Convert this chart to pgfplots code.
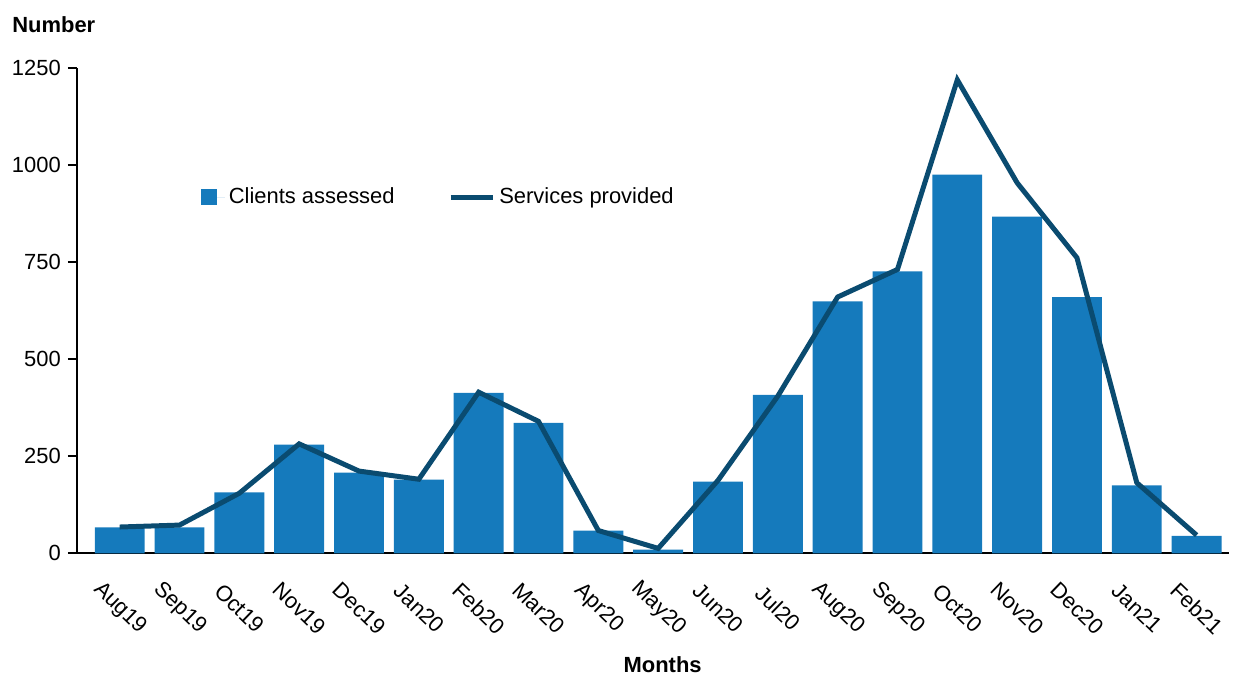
\documentclass[border=0pt]{standalone}
\usepackage{fontspec}
\setmainfont{Liberation Sans}
\usepackage{pgfplots}
\pgfplotsset{compat=1.18}
\definecolor{barblue}{RGB}{21,122,188}
\definecolor{lineblue}{RGB}{10,75,112}
\begin{document}
\begin{tikzpicture}
\begin{axis}[
  at={(0,0)}, anchor=south west,
  scale only axis, width=577.5pt, height=243.5pt,
  xmin=-0.717, xmax=18.533, ymin=0, ymax=1250,
  axis x line*=bottom, axis y line*=left,
  axis line style={line width=1pt, black},
  xtick={0,...,18},
  xticklabels={Aug19,Sep19,Oct19,Nov19,Dec19,Jan20,Feb20,Mar20,Apr20,May20,Jun20,Jul20,Aug20,Sep20,Oct20,Nov20,Dec20,Jan21,Feb21},
  x tick style={draw=none},
  ytick={0,250,500,750,1000,1250},
  y tick style={line width=1pt, black},
  tick align=outside, major tick length=4.5pt,
  ticklabel style={font=\fontsize{11pt}{13pt}\selectfont},
  /pgf/number format/assume math mode=true,
  /pgf/number format/1000 sep={},
  xticklabel style={yshift=-23pt, rotate=-44, anchor=center},
  clip=false,
  legend columns=2,
  legend style={at={(0.1074,0.733)}, anchor=west, draw=none, fill=none,
    font=\fontsize{11pt}{13pt}\selectfont, inner sep=0pt,
    /tikz/every even column/.append style={column sep=25pt}},
]
\addplot[ybar, bar width=25pt, fill=barblue, draw=none,
  legend image code/.code={\fill[barblue] (0pt,-4pt) rectangle (8pt,4pt); \path (0pt,0pt) -- (12pt,0pt);}]
  coordinates {(0,67) (1,67) (2,157) (3,280) (4,208) (5,190) (6,413) (7,336) (8,59) (9,10)
  (10,185) (11,408) (12,649) (13,726) (14,975) (15,867) (16,660) (17,175) (18,45)};
\addlegendentry{Clients assessed}
\addplot[lineblue, line width=2.5pt, line join=miter, mark=none,
  legend image code/.code={\draw[lineblue, line width=2.5pt] (0pt,0pt) -- (18pt,0pt); \path (0pt,0pt) -- (21pt,0pt);}]
  coordinates {(0,68) (1,73) (2,155) (3,282) (4,212) (5,191) (6,415) (7,340) (8,59) (9,13)
  (10,188) (11,405) (12,660) (13,731) (14,1219) (15,954) (16,761) (17,182) (18,47)};
\addlegendentry{Services provided}
\node[anchor=west, inner sep=0pt, font=\bfseries\fontsize{11pt}{13pt}\selectfont]
  at (rel axis cs:0,1) [xshift=-32.5pt, yshift=21.5pt] {Number};
\node[anchor=center, inner sep=0pt, font=\bfseries\fontsize{11pt}{13pt}\selectfont]
  at (rel axis cs:0.5,0) [xshift=5pt, yshift=-56pt] {Months};
\end{axis}
\path (-38.5pt,-61pt) rectangle (578.5pt,277.5pt);
\end{tikzpicture}
\end{document}
